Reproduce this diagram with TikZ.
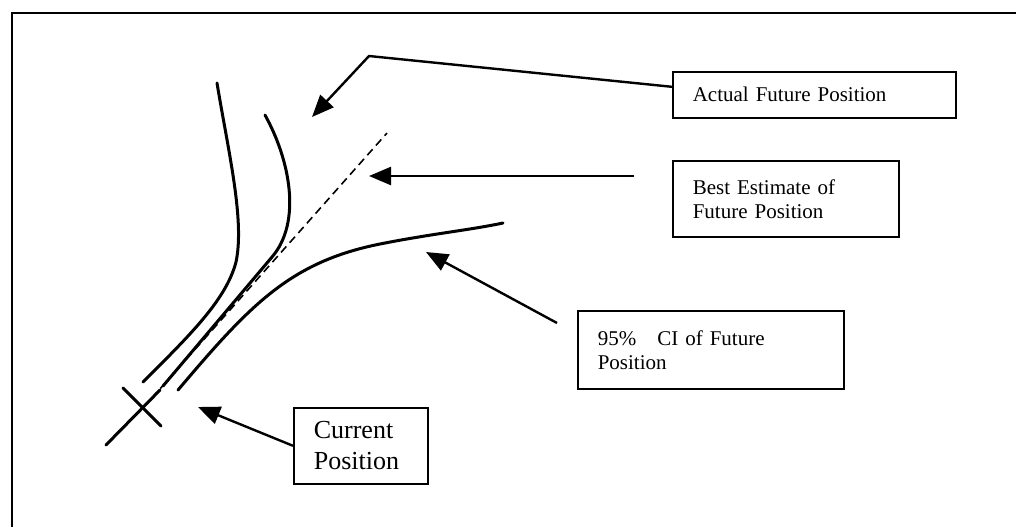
\documentclass[tikz,border=0pt]{standalone}
\usepackage{fontspec}
\setmainfont{Liberation Serif}
\usetikzlibrary{arrows.meta}

\begin{document}
\begin{tikzpicture}[x=0.5pt, y=-0.5pt,
        track/.style={line width=1.5pt, line cap=round},
        pointer/.style={line width=1.2pt, -{Triangle[length=11pt, width=9pt]}},
        labelbox/.style={draw, line width=0.8pt, anchor=north west, inner xsep=10pt, inner ysep=0pt,
                align=left, font=\fontsize{10.5}{12}\selectfont}]
    \useasboundingbox (0,0) rectangle (1016,527);

    % frame: only the top and left edges show
    \draw[line width=1pt] (12,527) -- (12,13) -- (1016,13);

    % label boxes
    \node[labelbox, text width=121.5pt, minimum height=23pt] (actual) at (672,71) {Actual Future Position};
    \node[labelbox, text width=93pt, minimum height=38pt] (best) at (672,160) {Best Estimate of\\Future Position};
    \node[labelbox, text width=113pt, minimum height=39pt] (ci) at (577,310) {95\%\quad CI of Future\\Position};
    \node[labelbox, text width=47pt, minimum height=38pt, font=\fontsize{13}{15.5}\selectfont] (current) at (293,407) {Current\\Position};

    % the current position, marked with a cross
    \coordinate (now) at (143,408);
    \draw[track] (106,445) -- (160,390);
    \draw[track] (123,388) -- (161,426);

    % best estimate, dashed
    \coordinate (estend) at (387,133);
    \draw[line width=0.8pt, dash pattern=on 4pt off 2.5pt] (now) -- (estend);

    % the bounds of the future track
    \draw[track] (217,83) .. controls (228,150) and (245,220) .. (236,262)
                          .. controls (226,300) and (190,335) .. (143,382);
    \draw[track] (265,115) .. controls (290,160) and (302,222) .. (272,257) -- (163,386);
    \draw[track] (178,390) .. controls (250,305) and (290,262) .. (380,244)
                           .. controls (430,234) and (470,230) .. (503,223);

    % arrows from the labels
    \coordinate (bend) at (369,56);
    \coordinate (actualtip) at (312,117);
    \draw[pointer] ([yshift=4pt]actual.west) -- (bend) -- (actualtip);

    \coordinate (bestfrom) at (634,176);
    \coordinate (besttip) at (369,176);
    \draw[pointer] (bestfrom) -- (besttip);

    \coordinate (cifrom) at (557,323);
    \coordinate (citip) at (426,252);
    \draw[pointer] (cifrom) -- (citip);

    \coordinate (nowtip) at (198,407);
    \draw[pointer] (current.west) -- (nowtip);
\end{tikzpicture}
\end{document}
